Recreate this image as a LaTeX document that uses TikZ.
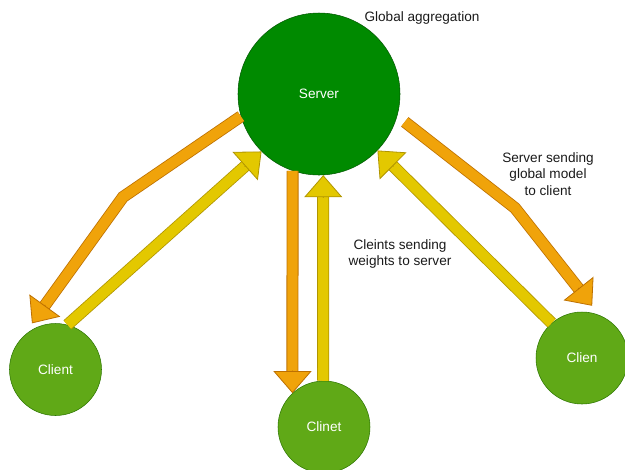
\documentclass[tikz,border=0pt]{standalone}
\usepackage{fontspec}
\setmainfont{Liberation Sans}
\usetikzlibrary{arrows.meta,calc}

\definecolor{srvfill}{HTML}{008A00}
\definecolor{srvline}{HTML}{005700}
\definecolor{cltfill}{HTML}{60A917}
\definecolor{cltline}{HTML}{2D7600}
\definecolor{sendfill}{HTML}{F0A30A}
\definecolor{sendline}{HTML}{BD7000}
\definecolor{backfill}{HTML}{E3C800}
\definecolor{backline}{HTML}{B09500}
\definecolor{labeltext}{HTML}{1A1A1A}

\begin{document}
\begin{tikzpicture}[x=0.75pt, y=-0.75pt, font=\fontsize{10.2}{12.2}\selectfont,
    servernode/.style={circle, draw=srvline, fill=srvfill, text=white, minimum size=121.5pt, inner sep=0pt},
    clientnode/.style={circle, draw=cltline, fill=cltfill, text=white, minimum size=69pt, inner sep=0pt},
    textnote/.style={align=center, text=labeltext, inner sep=0pt},
    sendshaft/.style={draw=sendline, double=sendfill, double distance=7.8pt, line width=0.6pt, line join=miter, shorten >=15.5pt},
    backshaft/.style={draw=backline, double=backfill, double distance=7.8pt, line width=0.6pt, line join=miter, shorten >=15.5pt},
    sendhead/.style={draw=sendline, line width=0.6pt, -{Triangle[length=16.5pt, width=28.5pt, fill=sendfill]}},
    backhead/.style={draw=backline, line width=0.6pt, -{Triangle[length=16.5pt, width=28.5pt, fill=backfill]}}]
    \useasboundingbox (0,0) rectangle (625,469);

    \node[servernode] (srv) at (319,94) {Server};
    \node[clientnode] (lc) at (55.5,369.5) {Client};
    \node[clientnode] (bc) at (324,427) {Clinet};
    \node[clientnode] (rc) at (582,358) {Clien};

    \node[textnote] (agg) at (422,18) {Global aggregation};
    \node[textnote] (down) at (548,174) {Server sending\\global model\\to client};
    \node[textnote] (up) at (400,254) {Cleints sending\\weights to server};

    % bends and free ends
    \coordinate (bl) at (123,197);
    \coordinate (br) at (515,208);
    \coordinate (tl) at ($(lc.center)!1.12!(lc.117)$);
    \coordinate (sr) at ($(srv.center)!1.11!(srv.342)$);
    \coordinate (tr) at ($(rc.center)!1.15!(rc.79)$);

    % server to clients
    \draw[sendshaft] (srv.196) -- (bl) -- (tl);
    \draw[sendhead] ($(tl)!17pt!(bl)$) -- (tl);
    \draw[sendshaft] (srv.251) -- (bc.133);
    \draw[sendhead] ($(bc.133)!17pt!(srv.251)$) -- (bc.133);
    \draw[sendshaft] (sr) -- (br) -- (tr);
    \draw[sendhead] ($(tr)!17pt!(br)$) -- (tr);

    % clients to server
    \draw[backshaft] (lc.75) -- (srv.225);
    \draw[backhead] ($(srv.225)!17pt!(lc.75)$) -- (srv.225);
    \draw[backshaft] (bc.91) -- (srv.273);
    \draw[backhead] ($(srv.273)!17pt!(bc.91)$) -- (srv.273);
    \draw[backshaft] (rc.131) -- (srv.316);
    \draw[backhead] ($(srv.316)!17pt!(rc.131)$) -- (srv.316);
\end{tikzpicture}
\end{document}
